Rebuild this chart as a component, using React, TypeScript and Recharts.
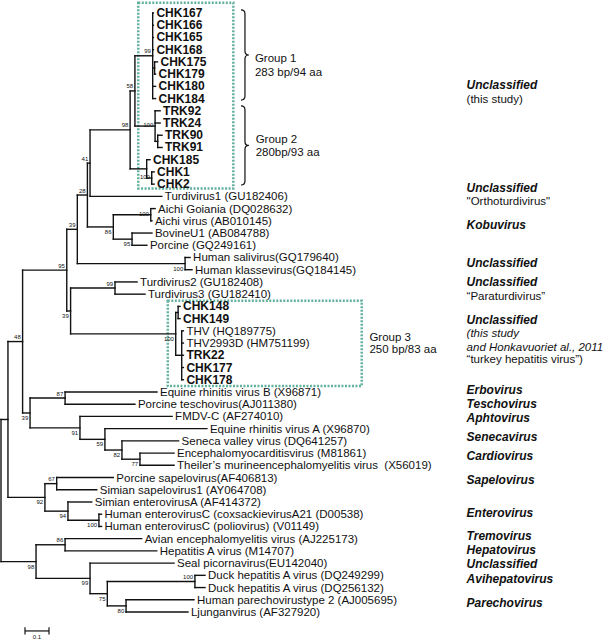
import { ScatterChart, Scatter, XAxis, YAxis, ReferenceLine, ReferenceArea } from "recharts";

// leaf labels, top to bottom
const TAXA = [
  "CHK167", "CHK166", "CHK165", "CHK168", "CHK175", "CHK179", "CHK180", "CHK184",
  "TRK92", "TRK24", "TRK90", "TRK91", "CHK185", "CHK1", "CHK2",
  "Turdivirus1 (GU182406)", "Aichi Goiania (DQ028632)", "Aichi virus (AB010145)",
  "BovineU1 (AB084788)", "Porcine (GQ249161)", "Human salivirus(GQ179640)",
  "Human klassevirus(GQ184145)", "Turdivirus2 (GU182408)", "Turdivirus3 (GU182410)",
  "CHK148", "CHK149", "THV (HQ189775)", "THV2993D (HM751199)", "TRK22", "CHK177", "CHK178",
  "Equine rhinitis virus B (X96871)", "Porcine teschovirus(AJ011380)", "FMDV-C (AF274010)",
  "Equine rhinitis virus A (X96870)", "Seneca valley virus (DQ641257)",
  "Encephalomyocarditisvirus (M81861)", "Theiler\u2019s murineencephalomyelitis virus  (X56019)",
  "Porcine sapelovirus(AF406813)", "Simian sapelovirus1 (AY064708)",
  "Simian enterovirusA (AF414372)", "Human enterovirusC (coxsackievirusA21 (D00538)",
  "Human enterovirusC (poliovirus) (V01149)", "Avian encephalomyelitis virus (AJ225173)",
  "Hepatitis A virus (M14707)", "Seal picornavirus(EU142040)",
  "Duck hepatitis A virus (DQ249299)", "Duck hepatitis A virus (DQ256132)",
  "Human parechovirustype 2 (AJ005695)", "Ljunganvirus (AF327920)",
];

// distance from root to each tip (substitutions/site)
const TIP_DEPTH = [
  0.635, 0.635, 0.635, 0.635, 0.652, 0.644, 0.644, 0.644,
  0.663, 0.663, 0.671, 0.671, 0.621, 0.638, 0.638,
  0.67, 0.642, 0.629, 0.629, 0.608, 0.788, 0.796, 0.567, 0.6,
  0.746, 0.746, 0.76, 0.76, 0.76, 0.76, 0.76,
  0.65, 0.558, 0.713, 0.858, 0.74, 0.721, 0.721,
  0.468, 0.399, 0.378, 0.419, 0.419, 0.586, 0.649, 0.721,
  0.85, 0.85, 0.804, 0.779,
];

// internal nodes: [id, depth, children (taxon index or node id), bootstrap]
const NODES: [string, number, (number | string)[], number | null][] = [
  ["g1", 0.632, [0, 1, 2, 3, "g1b", 6, 7], 99],
  ["g1b", 0.64, [4, 5], null],
  ["g2", 0.642, [8, 9, "g2b"], 100],
  ["g2b", 0.653, [10, 11], null],
  ["n58", 0.558, ["g1", "g2"], 58],
  ["chk12", 0.628, [13, 14], 100],
  ["chk185", 0.607, [12, "chk12"], null],
  ["n98", 0.538, ["n58", "chk185"], 98],
  ["n41", 0.371, ["n98", 15], 41],
  ["aichi", 0.624, [16, 17], 100],
  ["bov", 0.546, [18, 19], 95],
  ["kobu", 0.468, ["aichi", "bov"], 86],
  ["n28", 0.36, ["n41", "kobu"], 28],
  ["sali", 0.767, [20, 21], 100],
  ["n39a", 0.318, ["n28", "sali"], 39],
  ["turdi", 0.475, [22, 23], 99],
  ["g3a", 0.738, [24, 25], null],
  ["g3b", 0.753, [26, 27, 28, 29, 30], null],
  ["g3", 0.728, ["g3a", "g3b"], 100],
  ["n39c", 0.29, ["turdi", "g3"], 39],
  ["n95", 0.274, ["n39a", "n39c"], 95],
  ["erbo", 0.267, [31, 32], 87],
  ["cardio", 0.579, [36, 37], 77],
  ["n82", 0.504, [35, "cardio"], 82],
  ["n59", 0.433, [34, "n82"], 59],
  ["n91", 0.329, [33, "n59"], 91],
  ["n39b", 0.121, ["erbo", "n91"], 39],
  ["n48", 0.09, ["n95", "n39b"], 48],
  ["sapelo", 0.232, [38, 39], 67],
  ["hevc", 0.408, [41, 42], 100],
  ["entero", 0.279, [40, "hevc"], 94],
  ["n92", 0.183, ["sapelo", "entero"], 92],
  ["upper", 0.029, ["n48", "n92"], null],
  ["hav", 0.267, [43, 44], 86],
  ["duck", 0.808, [46, 47], 100],
  ["pareo", 0.521, [48, 49], 80],
  ["n75", 0.443, ["duck", "pareo"], 75],
  ["n99", 0.371, [45, "n75"], 99],
  ["lower", 0.146, ["hav", "n99"], 98],
  ["root", 0, ["upper", "lower"], null],
];

const BOOT_ABOVE = ["g1", "n58", "n98", "n41", "n28", "n39a", "n95", "n48", "turdi", "erbo", "sapelo", "hav", "duck"];
const BOOT_BESIDE = ["g2", "chk12", "aichi"];

// genus names on the right, with the row they sit on
const GENERA: [string, number][] = [
  ["Unclassified", 5.89], ["Unclassified", 14.29], ["Kobuvirus", 17.35],
  ["Unclassified", 20.43], ["Unclassified", 21.99], ["Unclassified", 25.12],
  ["Erbovirus", 30.85], ["Teschovirus", 32.0], ["Aphtovirus", 33.17],
  ["Senecavirus", 34.72], ["Cardiovirus", 36.25], ["Sapelovirus", 38.22],
  ["Enterovirus", 40.94], ["Tremovirus", 42.8], ["Hepatovirus", 43.94],
  ["Unclassified", 45.09], ["Avihepatovirus", 46.26], ["Parechovirus", 48.26],
];
const NOTES_PLAIN: [string, number][] = [
  ["(this study)", 7.06], ["\"Orthoturdivirus\"", 15.38],
  ["\u201cParaturdivirus\u201d", 23.16], ["\u201cturkey hepatitis virus\u201d)", 28.34],
];
const NOTES_ITALIC: [string, number][] = [
  ["(this study", 26.21], ["and Honkavuoriet al., 2011", 27.31],
];

const GROUP_NAMES = ["Group 1", "Group 2", "Group 3"];
const GROUP_SIZES = ["283 bp/94 aa", "280bp/93 aa", "250 bp/83 aa"];
const SCALE_LEN = 0.1;

// layout (data units: depth across, row down)
const X_DOMAIN = [-0.00417, 2.5375];
const Y_DOMAIN = [-1.0634, 51.29];
const GROUP_POS: [number, number, number][] = [[1.058, 3.71, 4.8], [1.061, 10.34, 11.4], [1.535, 26.5, 27.45]];
const BRACES = [[1.0, 1.033, -0.25, 7.12], [1.0, 1.033, 7.6, 14.07]];
const BOXES = [[0.572, 0.968, -0.84, 14.35], [0.695, 1.503, 23.54, 30.52]];
const NOTE_X = 1.94;
const SCALE_X = 0.1;
const SCALE_ROW = 50.55;

const FONT = "'Liberation Sans', Arial, Helvetica, sans-serif";
const INK = "#111";
const BOX_COLOR = "#62b09e";

const nodeMap = new Map(NODES.map((n) => [n[0], n]));
const rowOf = (k: number | string): number => {
  if (typeof k === "number") return k;
  const kids = nodeMap.get(k)![2];
  return (rowOf(kids[0]) + rowOf(kids[kids.length - 1])) / 2;
};
const depthOf = (k: number | string) => (typeof k === "number" ? TIP_DEPTH[k] : nodeMap.get(k)![1]);

const SEGMENTS = NODES.flatMap(([, d, kids]) => [
  [{ x: d, y: rowOf(kids[0]) }, { x: d, y: rowOf(kids[kids.length - 1]) }],
  ...kids.map((k) => [{ x: d, y: rowOf(k) }, { x: depthOf(k), y: rowOf(k) }]),
]);

const leafPoints = TAXA.map((name, i) => ({ x: TIP_DEPTH[i], y: i, name }));
const bootPoints = NODES.filter((n) => n[3] != null).map(([id, d, , b]) => ({
  x: d, y: rowOf(id), text: String(b),
  dy: BOOT_ABOVE.includes(id) ? -4.5 : BOOT_BESIDE.includes(id) ? -1 : 5,
}));
const genusPoints = GENERA.map(([text, y]) => ({ x: NOTE_X, y, text }));
const plainPoints = [
  ...NOTES_PLAIN.map(([text, y]) => ({ x: NOTE_X, y, text })),
  ...GROUP_NAMES.flatMap((g, i) => [
    { x: GROUP_POS[i][0], y: GROUP_POS[i][1], text: g },
    { x: GROUP_POS[i][0], y: GROUP_POS[i][2], text: GROUP_SIZES[i] },
  ]),
];
const italicPoints = NOTES_ITALIC.map(([text, y]) => ({ x: NOTE_X, y, text }));

function TaxonLabel(p: any) {
  const name: string = p.payload.name;
  const bold = /^(CHK|TRK)/.test(name);
  return (
    <text x={p.cx + 3} y={p.cy} dominantBaseline="central" fontFamily={FONT}
      fontSize={bold ? 12 : 11.5} fontWeight={bold ? 700 : 400} fill={INK} style={{ whiteSpace: "pre" }}>
      {name}
    </text>
  );
}

function BootLabel(p: any) {
  return (
    <text x={p.cx - 1.8} y={p.cy + p.payload.dy} textAnchor="end" dominantBaseline="central"
      fontFamily={FONT} fontSize={6} fill={INK}>
      {p.payload.text}
    </text>
  );
}

const noteLabel = (weight: number, italic: boolean, size: number) => (p: any) => (
  <text x={p.cx} y={p.cy} dominantBaseline="central" fontFamily={FONT} fontSize={size}
    fontWeight={weight} fontStyle={italic ? "italic" : "normal"} fill={INK}>
    {p.payload.text}
  </text>
);

function Brace(p: any) {
  const { x, y, width: w, height: h } = p;
  const mx = x + w / 2, my = y + h / 2, r = 4;
  const d = `M${x},${y} Q${mx},${y} ${mx},${y + r} L${mx},${my - r} Q${mx},${my} ${x + w},${my} ` +
    `Q${mx},${my} ${mx},${my + r} L${mx},${y + h - r} Q${mx},${y + h} ${x},${y + h}`;
  return <path d={d} fill="none" stroke={INK} strokeWidth={1.2} />;
}

export default function App() {
  return (
    <div style={{ width: 610, height: 640, background: "#fff" }}>
      <style>{"body{margin:0}"}</style>
      <ScatterChart width={610} height={640} margin={{ top: 0, right: 0, bottom: 0, left: 0 }}>
        <XAxis type="number" dataKey="x" domain={X_DOMAIN} hide />
        <YAxis type="number" dataKey="y" domain={Y_DOMAIN} reversed hide />
        {BOXES.map(([x1, x2, y1, y2], i) => (
          <ReferenceArea key={"box" + i} x1={x1} x2={x2} y1={y1} y2={y2} fill="none"
            stroke={BOX_COLOR} strokeWidth={2.5} strokeDasharray="2 1.5" />
        ))}
        {BRACES.map(([x1, x2, y1, y2], i) => (
          <ReferenceArea key={"br" + i} x1={x1} x2={x2} y1={y1} y2={y2} shape={Brace} />
        ))}
        {SEGMENTS.map((s, i) => (
          <ReferenceLine key={"s" + i} segment={s} stroke={INK} strokeWidth={1.4} strokeLinecap="square" />
        ))}
        <ReferenceLine segment={[{ x: SCALE_X, y: SCALE_ROW }, { x: SCALE_X + SCALE_LEN, y: SCALE_ROW }]} stroke={INK} strokeWidth={1.2} />
        {[SCALE_X, SCALE_X + SCALE_LEN].map((x, i) => (
          <ReferenceLine key={"t" + i} segment={[{ x, y: SCALE_ROW - 0.3 }, { x, y: SCALE_ROW + 0.3 }]} stroke={INK} strokeWidth={1.2} />
        ))}
        <Scatter data={leafPoints} shape={TaxonLabel} isAnimationActive={false} />
        <Scatter data={bootPoints} shape={BootLabel} isAnimationActive={false} />
        <Scatter data={genusPoints} shape={noteLabel(700, true, 12)} isAnimationActive={false} />
        <Scatter data={plainPoints} shape={noteLabel(400, false, 11.5)} isAnimationActive={false} />
        <Scatter data={italicPoints} shape={noteLabel(400, true, 11.5)} isAnimationActive={false} />
        <Scatter data={[{ x: SCALE_X + SCALE_LEN / 2, y: 51.06, text: String(SCALE_LEN) }]}
          shape={(p: any) => (
            <text x={p.cx} y={p.cy} textAnchor="middle" dominantBaseline="central" fontFamily={FONT} fontSize={6} fill={INK}>
              {p.payload.text}
            </text>
          )}
          isAnimationActive={false} />
      </ScatterChart>
    </div>
  );
}
